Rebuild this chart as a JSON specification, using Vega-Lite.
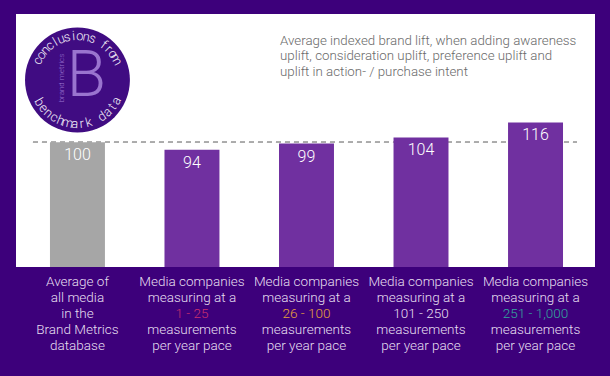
{
  "$schema": "https://vega.github.io/schema/vega-lite/v6.json",
  "width": 579,
  "height": 253,
  "autosize": {"type": "none"},
  "padding": {"left": 16, "top": 14, "right": 15, "bottom": 109},
  "background": "#3d007b",
  "title": {
    "text": ["Average indexed brand lift, when adding awareness", "uplift, consideration uplift, preference uplift and", "uplift in action- / purchase intent"],
    "anchor": "start",
    "frame": "group",
    "orient": "top",
    "dx": 264,
    "offset": -64,
    "font": "Roboto",
    "fontSize": 13.3,
    "fontWeight": 300,
    "lineHeight": 15.3,
    "color": "#6a6a6a"
  },
  "config": {
    "view": {"fill": "white", "stroke": null},
    "axisY": {"disable": true},
    "axisX": {
      "orient": "bottom", "title": null, "domain": false, "ticks": false, "grid": false, "labelAngle": 0,
      "labelFont": "Roboto", "labelFontSize": 13.5, "labelFontWeight": 300, "labelLineHeight": 16,
      "labelLimit": 0, "labelOverlap": false, "labelBaseline": "top", "labelColor": "#e6dff0"
    },
    "font": "Roboto"
  },
  "datasets": {
    "bars": [
      {"category": "Average of\nall media\nin the\nBrand Metrics\ndatabase", "index": 100, "group": "all"},
      {"category": "Media companies\nmeasuring at a\n1 - 25\nmeasurements\nper year pace", "index": 94, "group": "media"},
      {"category": "Media companies\nmeasuring at a\n26 - 100\nmeasurements\nper year pace", "index": 99, "group": "media"},
      {"category": "Media companies\nmeasuring at a\n101 - 250\nmeasurements\nper year pace", "index": 104, "group": "media"},
      {"category": "Media companies\nmeasuring at a\n251 - 1,000\nmeasurements\nper year pace", "index": 116, "group": "media"}
    ],
    "ringTop": [
      {"i": 0, "ch": "c"}, {"i": 1, "ch": "o"}, {"i": 2, "ch": "n"}, {"i": 3, "ch": "c"},
      {"i": 4, "ch": "l"}, {"i": 5, "ch": "u"}, {"i": 6, "ch": "s"}, {"i": 7, "ch": "i"},
      {"i": 8, "ch": "o"}, {"i": 9, "ch": "n"}, {"i": 10, "ch": "s"}, {"i": 11, "ch": " "},
      {"i": 12, "ch": "f"}, {"i": 13, "ch": "r"}, {"i": 14, "ch": "o"}, {"i": 15, "ch": "m"}
    ],
    "ringBottom": [
      {"i": 0, "ch": "b"}, {"i": 1, "ch": "e"}, {"i": 2, "ch": "n"}, {"i": 3, "ch": "c"},
      {"i": 4, "ch": "h"}, {"i": 5, "ch": "m"}, {"i": 6, "ch": "a"}, {"i": 7, "ch": "r"},
      {"i": 8, "ch": "k"}, {"i": 9, "ch": " "}, {"i": 10, "ch": "d"}, {"i": 11, "ch": "a"},
      {"i": 12, "ch": "t"}, {"i": 13, "ch": "a"}
    ],
    "logo": [{"label": "B", "sub": "brand metrics"}]
  },
  "resolve": {"axis": {"x": "independent"}, "scale": {"theta": "independent", "angle": "independent"}},
  "layer": [
    {
      "data": {"name": "bars"},
      "mark": {"type": "rule", "color": "#ababab", "strokeWidth": 1.5, "strokeDash": [5, 4], "xOffset": -17, "x2Offset": 14},
      "encoding": {
        "x": {"datum": "Average of\nall media\nin the\nBrand Metrics\ndatabase", "bandPosition": 0, "axis": null},
        "x2": {"datum": "Media companies\nmeasuring at a\n251 - 1,000\nmeasurements\nper year pace", "bandPosition": 1},
        "y": {"datum": 100, "type": "quantitative"}
      }
    },
    {
      "data": {"name": "bars"},
      "mark": {"type": "bar"},
      "encoding": {
        "x": {
          "field": "category", "type": "nominal", "sort": null,
          "scale": {
            "domain": [
              "Average of\nall media\nin the\nBrand Metrics\ndatabase",
              "Media companies\nmeasuring at a\n1 - 25\nmeasurements\nper year pace",
              "Media companies\nmeasuring at a\n26 - 100\nmeasurements\nper year pace",
              "Media companies\nmeasuring at a\n101 - 250\nmeasurements\nper year pace",
              "Media companies\nmeasuring at a\n251 - 1,000\nmeasurements\nper year pace"
            ],
            "paddingInner": 0.52, "paddingOuter": 0.288, "align": 0.515
          },
          "axis": {
            "orient": "bottom", "labelPadding": 7,
            "labelExpr": "[split(datum.label,'\\n')[0], split(datum.label,'\\n')[1]]"
          }
        },
        "y": {"field": "index", "type": "quantitative", "scale": {"domain": [0, 203], "nice": false}, "axis": null},
        "color": {
          "field": "group", "type": "nominal",
          "scale": {"domain": ["all", "media"], "range": ["#a6a6a6", "#7030a0"]},
          "legend": null
        }
      }
    },
    {
      "data": {"name": "bars"},
      "mark": {"type": "text", "baseline": "top", "dy": 5, "fontSize": 16, "fontWeight": 300, "font": "Roboto", "color": "#ffffff"},
      "encoding": {
        "x": {
          "field": "category", "type": "nominal", "sort": null,
          "axis": {
            "orient": "bottom", "labelPadding": 39,
            "labelColor": {
              "condition": [
                {"test": "split(datum.value,'\\n')[2] === '1 - 25'", "value": "#c92f6f"},
                {"test": "split(datum.value,'\\n')[2] === '26 - 100'", "value": "#e6a23c"},
                {"test": "split(datum.value,'\\n')[2] === '251 - 1,000'", "value": "#33a89d"}
              ],
              "value": "#e6dff0"
            },
            "labelExpr": "split(datum.label,'\\n')[2]"
          }
        },
        "y": {"field": "index", "type": "quantitative", "axis": null},
        "text": {"field": "index", "type": "quantitative"}
      }
    },
    {
      "data": {"name": "logo"},
      "mark": {"type": "point", "shape": "circle", "filled": true, "size": 11000, "color": "#400c82", "opacity": 1},
      "encoding": {
        "x": {
          "datum": "Average of\nall media\nin the\nBrand Metrics\ndatabase",
          "axis": {
            "orient": "bottom", "labelPadding": 55,
            "labelExpr": "[split(datum.label,'\\n')[3], split(datum.label,'\\n')[4]]"
          }
        },
        "y": {"datum": 150, "type": "quantitative", "axis": null}
      }
    },
    {
      "data": {"name": "ringTop"},
      "mark": {"type": "text", "radius": 44, "baseline": "middle", "align": "center", "fontSize": 13, "fontWeight": 300, "font": "Roboto", "color": "#f2ecf8"},
      "encoding": {
        "x": {"datum": "Average of\nall media\nin the\nBrand Metrics\ndatabase", "axis": null},
        "y": {"datum": 150, "type": "quantitative", "axis": null},
        "theta": {"field": "i", "type": "quantitative", "stack": null, "scale": {"domain": [0, 15], "range": [-1.117, 1.082]}},
        "angle": {"field": "i", "type": "quantitative", "scale": {"domain": [0, 15], "range": [-64, 62]}},
        "text": {"field": "ch"}
      }
    },
    {
      "data": {"name": "ringBottom"},
      "mark": {"type": "text", "radius": 44, "baseline": "middle", "align": "center", "fontSize": 13, "fontWeight": 300, "font": "Roboto", "color": "#f2ecf8"},
      "encoding": {
        "x": {"datum": "Average of\nall media\nin the\nBrand Metrics\ndatabase", "axis": null},
        "y": {"datum": 150, "type": "quantitative", "axis": null},
        "theta": {"field": "i", "type": "quantitative", "stack": null, "scale": {"domain": [0, 13], "range": [4.189, 2.059]}},
        "angle": {"field": "i", "type": "quantitative", "scale": {"domain": [0, 13], "range": [60, -62]}},
        "text": {"field": "ch"}
      }
    },
    {
      "data": {"name": "logo"},
      "mark": {"type": "text", "baseline": "middle", "align": "center", "fontSize": 64, "fontWeight": 300, "font": "Roboto", "color": "#9a74cf", "dx": 9, "dy": -3},
      "encoding": {
        "x": {"datum": "Average of\nall media\nin the\nBrand Metrics\ndatabase", "axis": null},
        "y": {"datum": 150, "type": "quantitative", "axis": null},
        "text": {"field": "label"}
      }
    },
    {
      "data": {"name": "logo"},
      "mark": {"type": "text", "baseline": "middle", "align": "center", "fontSize": 8, "fontWeight": 300, "font": "Roboto", "color": "#9a74cf", "angle": 270, "dx": 2, "dy": -15},
      "encoding": {
        "x": {"datum": "Average of\nall media\nin the\nBrand Metrics\ndatabase", "axis": null},
        "y": {"datum": 150, "type": "quantitative", "axis": null},
        "text": {"field": "sub"}
      }
    }
  ]
}
